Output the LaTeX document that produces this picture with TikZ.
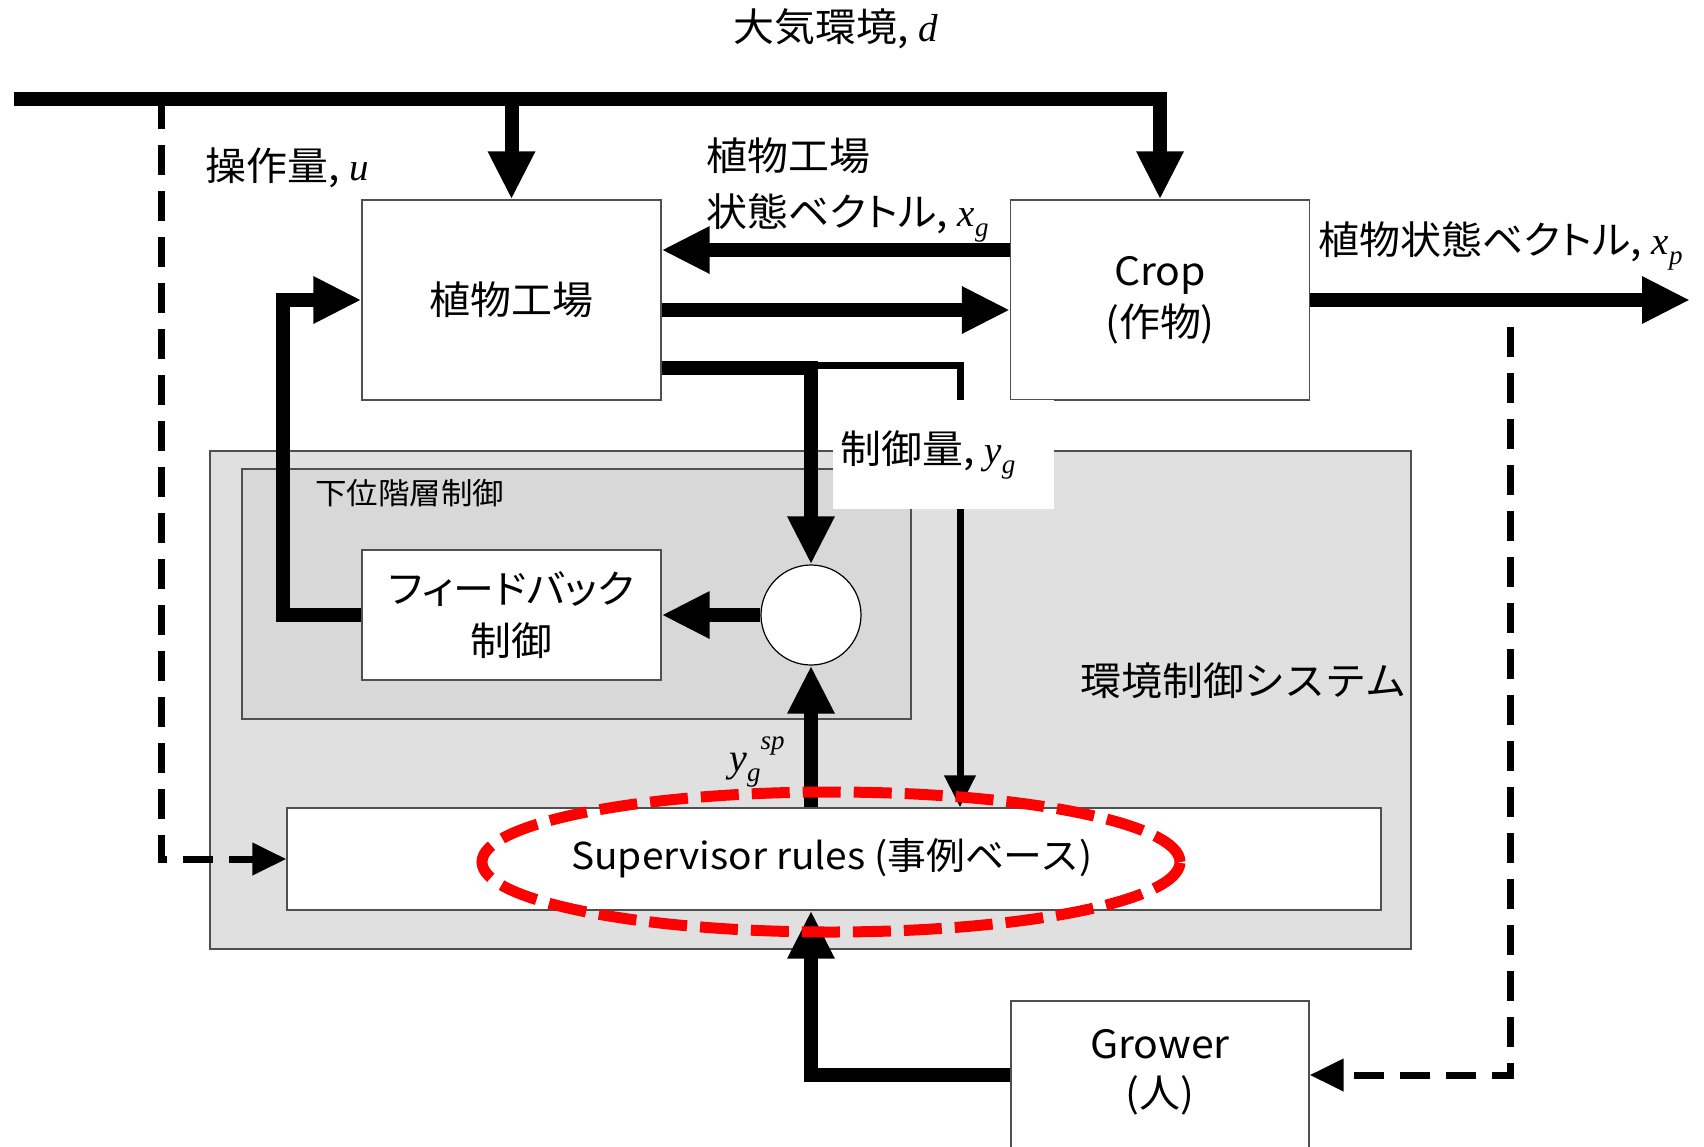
\documentclass[tikz,border=0pt]{standalone}
\usepackage{fontspec}
\setmainfont{Noto Sans CJK JP}[FakeStretch=1.05]
\newfontfamily\tms{Liberation Serif}
\newfontfamily\paltfont{Noto Sans CJK JP}[FakeStretch=1.05,RawFeature=+palt]
\usetikzlibrary{arrows.meta,calc}
\definecolor{envgray}{RGB}{224,224,224}
\definecolor{lowgray}{RGB}{216,216,216}
\definecolor{bordgray}{RGB}{80,80,80}
\newcommand\sz[1]{\fontsize{#1}{#1}\selectfont}
\newcommand\var[2]{\hspace{10pt}{\tms\itshape\sz{39}#1\raisebox{-0.26em}{\sz{27}#2}}}
\newcommand\yspv{{\tms\itshape\sz{40}y\raisebox{-0.25em}{\sz{27}g}\raisebox{0.55em}{\sz{27}sp}}}
\begin{document}
\begin{tikzpicture}[x=1pt,y=-1pt,
  box/.style={draw=bordgray,line width=1.2pt,fill=white,inner sep=0pt,align=center},
  fat/.style={line width=14pt},
  slim/.style={line width=7pt},
  big/.style={-{Triangle[width=44pt,length=48pt]}},
  small/.style={-{Triangle[width=30pt,length=32pt]}},
  dsh/.style={line width=7pt,dash pattern=on 30pt off 16pt,-{Triangle[width=31pt,length=34pt]}},
  lbl/.style={inner sep=0pt,font=\sz{39}},
]
\clip (0,0) rectangle (1704,1146);
\fill[white] (0,0) rectangle (1704,1146);

% grey system boxes
\node[draw=bordgray,fill=envgray,line width=1.2pt,minimum width=1201pt,minimum height=498pt,inner sep=0pt] (env) at (810.5,700) {};
\node[draw=bordgray,fill=lowgray,line width=1.2pt,minimum width=669pt,minimum height=250pt,inner sep=0pt] (low) at (576.5,594) {};

% blocks
\node[box,minimum width=299pt,minimum height=200pt,font=\sz{39}] (plant) at (511.5,300) {植物工場};
\node[box,minimum width=299pt,minimum height=200pt,font=\fontsize{39}{51}\selectfont] (crop) at (1160,300) {Crop\\(作物)};
\node[box,minimum width=299pt,minimum height=130pt,font=\fontsize{39}{52}\selectfont] (fb) at (511.5,615) {{\paltfont フィードバック}\\制御};
\node[box,minimum width=1094pt,minimum height=102pt] (sup) at (834,859) {};
\node[box,minimum width=298pt,minimum height=158pt] (grower) at (1160,1080) {};
\node[draw=black,line width=1.2pt,fill=white,circle,minimum size=100pt,inner sep=0pt] (sum) at (811,615) {};

% helper coordinates
\coordinate (bl) at (14,99);
\coordinate (dl) at (161,99);
\coordinate (xg) at (0,250);
\coordinate (pc) at (0,310);
\coordinate (xp) at (1690,300);
\coordinate (yg) at (0,368);
\coordinate (yt) at (0,365.5);
\coordinate (tx) at (960,0);
\coordinate (fbx) at (283,0);
\coordinate (gy) at (0,1075);
\coordinate (dr) at (1510,327);

% connectors
\draw[fat,big] (bl) -- (crop.north |- bl) -- (crop.north);
\draw[fat,big] (plant.north |- bl) -- (plant.north);
\draw[dsh] (dl) -- (dl |- sup.west) -- (sup.west);
\draw[fat,big] (crop.west |- xg) -- (plant.east |- xg);
\draw[fat,big] (plant.east |- pc) -- (crop.west |- pc);
\draw[fat,big] (crop.east) -- (xp);
\draw[slim,small] (sum.north |- yt) -- (tx |- yt) -- (tx |- sup.north);
\draw[fat,big] (plant.east |- yg) -- (sum.north |- yg) -- (sum.north);
\draw[fat,big] (sum.west) -- (fb.east);
\draw[fat,big] (fb.west) -- (fbx |- fb.west) -- (fbx |- plant.west) -- (plant.west);
\draw[fat,big] (sum.south |- sup.north) -- (sum.south);
\draw[fat,big] (grower.west |- gy) -- (sum.south |- gy) -- (sum.south |- sup.south);
\draw[dsh] (dr) -- (dr |- gy) -- (grower.east |- gy);

% white label box
\node[fill=white,minimum width=221pt,minimum height=109pt,inner sep=0pt] (ygbox) at (943.5,454.5) {};

% texts
\node[lbl] (title) at (836,30) {大気環境,\var{d}{}};
\node[lbl,anchor=west] (ulbl) at (205,169) {操作量,\var{u}{}};
\node[lbl,anchor=west,align=left,font=\fontsize{39}{56}\selectfont\paltfont] (xglbl) at (706,190) {植物工場\\状態ベクトル,\var{x}{g}};
\node[lbl,anchor=west,font=\sz{39}\paltfont] (xplbl) at (1318,246) {植物状態ベクトル,\var{x}{p}};
\node[lbl,anchor=west] (yglbl) at (840,455) {制御量,\var{y}{g}};
\node[lbl,anchor=west,font=\sz{30}] (lowlbl) at (315,493) {下位階層制御};
\node[lbl,anchor=west] (envlbl) at (1080,681) {環境制御システム};
\node[inner sep=0pt] (splbl) at (757,762) {\yspv};
\node[lbl,font=\sz{37}] (suplbl) at (832,858) {Supervisor rules (事例ベース)};
\node[lbl,align=center,font=\fontsize{39}{49}\selectfont] (grlbl) at (1160,1072.5) {Grower\\(人)};

% highlight ellipse
\draw[red,line width=11pt,dash pattern=on 38pt off 13pt] (831,862) ellipse [x radius=349pt,y radius=70pt];
\end{tikzpicture}
\end{document}
